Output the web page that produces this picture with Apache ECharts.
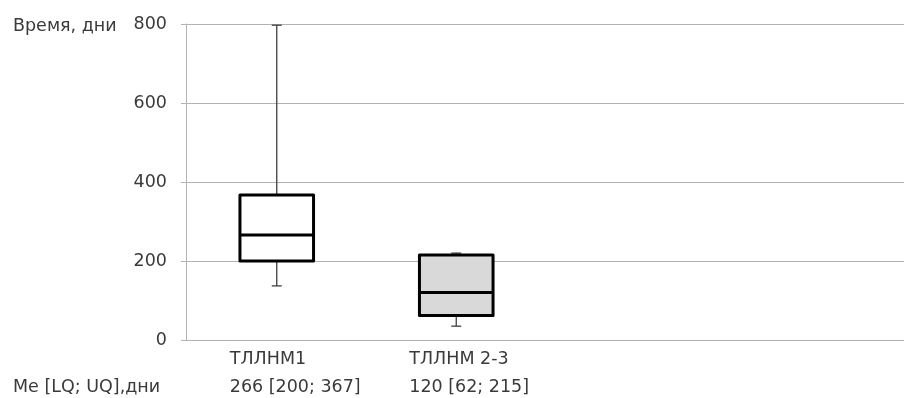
<!DOCTYPE html>
<html><head><meta charset="utf-8">
<script src="https://cdn.jsdelivr.net/npm/echarts@6/dist/echarts.min.js"></script>
<style>html,body{margin:0;padding:0;background:#fff}#c{width:904px;height:398px}</style>
</head><body><div id="c"></div>
<script>
const categories = ['ТЛЛНМ1', 'ТЛЛНМ 2-3', '', ''];
const statLabels = ['266 [200; 367]', '120 [62; 215]', '', ''];
// [min, Q1, median, Q3, max]
const boxValues = [
  [137, 200, 266, 367, 797],
  [35, 62, 120, 215, 220]
];
const boxFills = ['#ffffff', '#d9d9d9'];
const yTicks = [0, 200, 400, 600, 800];
const yAxisTitle = 'Время, дни';
const statTitle = 'Me [LQ; UQ],дни';

const chart = echarts.init(document.getElementById('c'), null, {renderer: 'canvas'});
const font = 'DejaVu Sans, Verdana, sans-serif';
const fs = 17.5;
const txt = '#3a3a3a';
const gridCol = '#b3b3b3';

const data = boxValues.map((v, i) => [i].concat(v));

chart.setOption({
  animation: false,
  title: [
    {text: yAxisTitle, left: 8, top: 12, textStyle: {fontFamily: font, fontSize: fs, fontWeight: 'normal', color: txt}},
    {text: statTitle, left: 8, top: 373, textStyle: {fontFamily: font, fontSize: fs, fontWeight: 'normal', color: txt}}
  ],
  grid: {left: 186, right: 0, top: 24, bottom: 58, containLabel: false, outerBoundsMode: 'none'},
  xAxis: {
    type: 'category', data: categories, boundaryGap: true,
    axisLine: {show: true, lineStyle: {color: gridCol, width: 1}},
    axisTick: {show: false},
    axisLabel: {
      interval: 0, align: 'left', margin: 5, padding: [0, 0, 0, -46],
      formatter: (v, i) => v ? v + '\n' + statLabels[i] : '',
      fontFamily: font, fontSize: fs, color: txt, lineHeight: 28
    },
    splitLine: {show: false}
  },
  yAxis: {
    type: 'value', min: 0, max: 800, interval: 200,
    axisLine: {show: true, lineStyle: {color: gridCol}},
    axisTick: {show: true, length: 5, lineStyle: {color: gridCol}},
    axisLabel: {fontFamily: font, fontSize: fs, color: txt, margin: 19,
      formatter: v => yTicks.includes(v) ? String(v) : ''},
    splitLine: {show: true, lineStyle: {color: gridCol, width: 1}}
  },
  series: [{
    type: 'custom',
    data: data,
    encode: {x: 0, y: [1, 2, 3, 4, 5]},
    renderItem: function (params, api) {
      const idx = api.value(0);
      const band = api.size([1, 0])[0];
      const bw = band * 0.41;
      const cap = 10;
      const pMin = api.coord([idx, api.value(1)]);
      const pQ1 = api.coord([idx, api.value(2)]);
      const pMed = api.coord([idx, api.value(3)]);
      const pQ3 = api.coord([idx, api.value(4)]);
      const pMax = api.coord([idx, api.value(5)]);
      const cx = pMed[0] + 1;
      const wStyle = {stroke: '#404040', lineWidth: 1.3};
      const bStyle = {stroke: '#000', lineWidth: 3};
      return {
        type: 'group',
        children: [
          {type: 'line', shape: {x1: cx, y1: pQ3[1], x2: cx, y2: pMax[1]}, style: wStyle},
          {type: 'line', shape: {x1: cx - cap / 2, y1: pMax[1], x2: cx + cap / 2, y2: pMax[1]}, style: wStyle},
          {type: 'line', shape: {x1: cx, y1: pQ1[1], x2: cx, y2: pMin[1]}, style: wStyle},
          {type: 'line', shape: {x1: cx - cap / 2, y1: pMin[1], x2: cx + cap / 2, y2: pMin[1]}, style: wStyle},
          {type: 'rect', shape: {x: cx - bw / 2, y: pQ3[1], width: bw, height: pQ1[1] - pQ3[1]},
            style: {fill: boxFills[idx], stroke: '#000', lineWidth: 3, lineJoin: 'round'}},
          {type: 'line', shape: {x1: cx - bw / 2, y1: pMed[1], x2: cx + bw / 2, y2: pMed[1]}, style: bStyle}
        ]
      };
    }
  }]
});
</script></body></html>
